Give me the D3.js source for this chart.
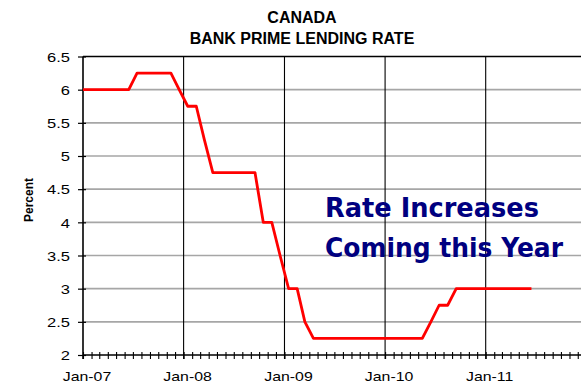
<!DOCTYPE html>
<html>
<head>
<meta charset="utf-8">
<script src="https://cdn.jsdelivr.net/npm/d3@7"></script>
<style>
  html, body { margin: 0; padding: 0; background: #fff; }
  svg { display: block; }
</style>
</head>
<body>
<svg id="chart" width="581" height="388"></svg>
<script>
// Canada bank prime lending rate, monthly readings (mid-month), Jan 2007 – Jun 2011
const months = [
  "2007-01","2007-02","2007-03","2007-04","2007-05","2007-06","2007-07","2007-08","2007-09","2007-10","2007-11","2007-12",
  "2008-01","2008-02","2008-03","2008-04","2008-05","2008-06","2008-07","2008-08","2008-09","2008-10","2008-11","2008-12",
  "2009-01","2009-02","2009-03","2009-04","2009-05","2009-06","2009-07","2009-08","2009-09","2009-10","2009-11","2009-12",
  "2010-01","2010-02","2010-03","2010-04","2010-05","2010-06","2010-07","2010-08","2010-09","2010-10","2010-11","2010-12",
  "2011-01","2011-02","2011-03","2011-04","2011-05","2011-06"
];
const primeRate = [
  6, 6, 6, 6, 6, 6, 6.25, 6.25, 6.25, 6.25, 6.25, 6,
  5.75, 5.75, 5.25, 4.75, 4.75, 4.75, 4.75, 4.75, 4.75, 4, 4, 3.5,
  3, 3, 2.5, 2.25, 2.25, 2.25, 2.25, 2.25, 2.25, 2.25, 2.25, 2.25,
  2.25, 2.25, 2.25, 2.25, 2.25, 2.5, 2.75, 2.75, 3, 3, 3, 3,
  3, 3, 3, 3, 3, 3
];
// rate in effect on the first day of the period
const openingDate = "2007-01-01";
const openingRate = 6;

const yTicks = [2, 2.5, 3, 3.5, 4, 4.5, 5, 5.5, 6, 6.5];
const yearTicks = ["2007-01-01","2008-01-01","2009-01-01","2010-01-01","2011-01-01"];
const yearLabels = ["Jan-07","Jan-08","Jan-09","Jan-10","Jan-11"];
const titleLines = ["CANADA", "BANK PRIME LENDING RATE"];
const yTitle = "Percent";
const noteLines = ["Rate Increases", "Coming this Year"];

const parse = d3.utcParse("%Y-%m-%d");
const parseMonth = d3.utcParse("%Y-%m");

const points = [{date: parse(openingDate), value: openingRate}]
  .concat(months.map((m, i) => ({
    date: d3.utcDay.offset(parseMonth(m), 15),
    value: primeRate[i]
  })));

const svg = d3.select("#chart");
const plotLeft = 83, plotRight = 586.3, plotTop = 56.5, plotBottom = 355;
const labelFont = "Liberation Sans, Arial, sans-serif";

const x = d3.scaleUtc()
  .domain([parse("2007-01-01"), parse("2012-01-01")])
  .range([plotLeft, plotRight]);
const y = d3.scaleLinear().domain([2, 6.5]).range([plotBottom, plotTop]);

// widen axis labels horizontally, like the wide-set tick lettering
function widen(sel, k) {
  sel.each(function () {
    const w = this.getComputedTextLength();
    d3.select(this).attr("textLength", w * k).attr("lengthAdjust", "spacingAndGlyphs");
  });
}

// title
svg.append("g").selectAll("text").data(titleLines).join("text")
  .attr("x", 302).attr("y", (d, i) => 23 + i * 21)
  .attr("text-anchor", "middle")
  .attr("font-family", labelFont)
  .attr("font-weight", "bold").attr("font-size", 16)
  .attr("fill", "#000")
  .text(d => d);

// horizontal gridlines
svg.append("g").selectAll("line").data(yTicks.filter(v => v > 2 && v < 6.5)).join("line")
  .attr("x1", plotLeft).attr("x2", 581)
  .attr("y1", d => y(d)).attr("y2", d => y(d))
  .attr("stroke", "#a6a6a6").attr("stroke-width", 1.6);

// top border of plot
svg.append("line")
  .attr("x1", plotLeft).attr("x2", 581).attr("y1", y(6.5)).attr("y2", y(6.5))
  .attr("stroke", "#000").attr("stroke-width", 1.3);

// yearly vertical lines
svg.append("g").selectAll("line").data(yearTicks.slice(1)).join("line")
  .attr("x1", d => x(parse(d))).attr("x2", d => x(parse(d)))
  .attr("y1", plotTop).attr("y2", plotBottom + 4)
  .attr("stroke", "#000").attr("stroke-width", 1.1);

// x axis with monthly ticks
const xAxis = d3.axisBottom(x)
  .ticks(d3.utcMonth.every(1))
  .tickSize(0)
  .tickFormat("");
const gx = svg.append("g").attr("transform", `translate(0,${plotBottom})`).call(xAxis);
gx.select(".domain").remove();
gx.selectAll(".tick line")
  .attr("y1", -3).attr("y2", 4)
  .attr("stroke", "#000").attr("stroke-width", 1.1);
svg.append("line")
  .attr("x1", plotLeft).attr("x2", 581).attr("y1", plotBottom).attr("y2", plotBottom)
  .attr("stroke", "#000").attr("stroke-width", 1.6);

// year labels
svg.append("g").selectAll("text").data(yearTicks).join("text")
  .attr("x", d => x(parse(d)) + 4).attr("y", 381)
  .attr("text-anchor", "middle")
  .attr("font-family", labelFont)
  .attr("font-size", 13).attr("fill", "#000")
  .text((d, i) => yearLabels[i])
  .call(widen, 1.22);

// y axis
const yAxis = d3.axisLeft(y).tickValues(yTicks).tickSize(0).tickFormat(d3.format("~g"));
const gy = svg.append("g").attr("transform", `translate(${plotLeft},0)`).call(yAxis);
gy.select(".domain").remove();
gy.selectAll(".tick line").attr("x1", -5).attr("x2", 3).attr("stroke", "#000").attr("stroke-width", 1.2);
gy.selectAll(".tick text")
  .attr("x", -13).attr("dy", "0.36em")
  .attr("font-family", labelFont)
  .attr("font-size", 13).attr("fill", "#000")
  .call(widen, 1.27);
svg.append("line")
  .attr("x1", plotLeft).attr("x2", plotLeft).attr("y1", plotTop).attr("y2", plotBottom + 4)
  .attr("stroke", "#000").attr("stroke-width", 1.6);

// y axis title
svg.append("text")
  .attr("transform", `translate(33,200) rotate(-90)`)
  .attr("text-anchor", "middle")
  .attr("font-family", labelFont)
  .attr("font-weight", "bold").attr("font-size", 12)
  .text(yTitle);

// prime rate line
const line = d3.line().x(d => x(d.date)).y(d => y(d.value));
svg.append("path").datum(points)
  .attr("d", line)
  .attr("fill", "none")
  .attr("stroke", "#ff0000")
  .attr("stroke-width", 2.8)
  .attr("stroke-linejoin", "round");

// note
const noteWidths = [214, 238];
svg.append("g").selectAll("text").data(noteLines).join("text")
  .attr("x", 325).attr("y", (d, i) => 217 + i * 40)
  .attr("font-family", "'Comic Sans MS', 'DejaVu Sans', sans-serif")
  .attr("font-weight", "bold").attr("font-size", 26)
  .attr("fill", "#000080")
  .attr("textLength", (d, i) => noteWidths[i])
  .attr("lengthAdjust", "spacingAndGlyphs")
  .text(d => d);
</script>
</body>
</html>
